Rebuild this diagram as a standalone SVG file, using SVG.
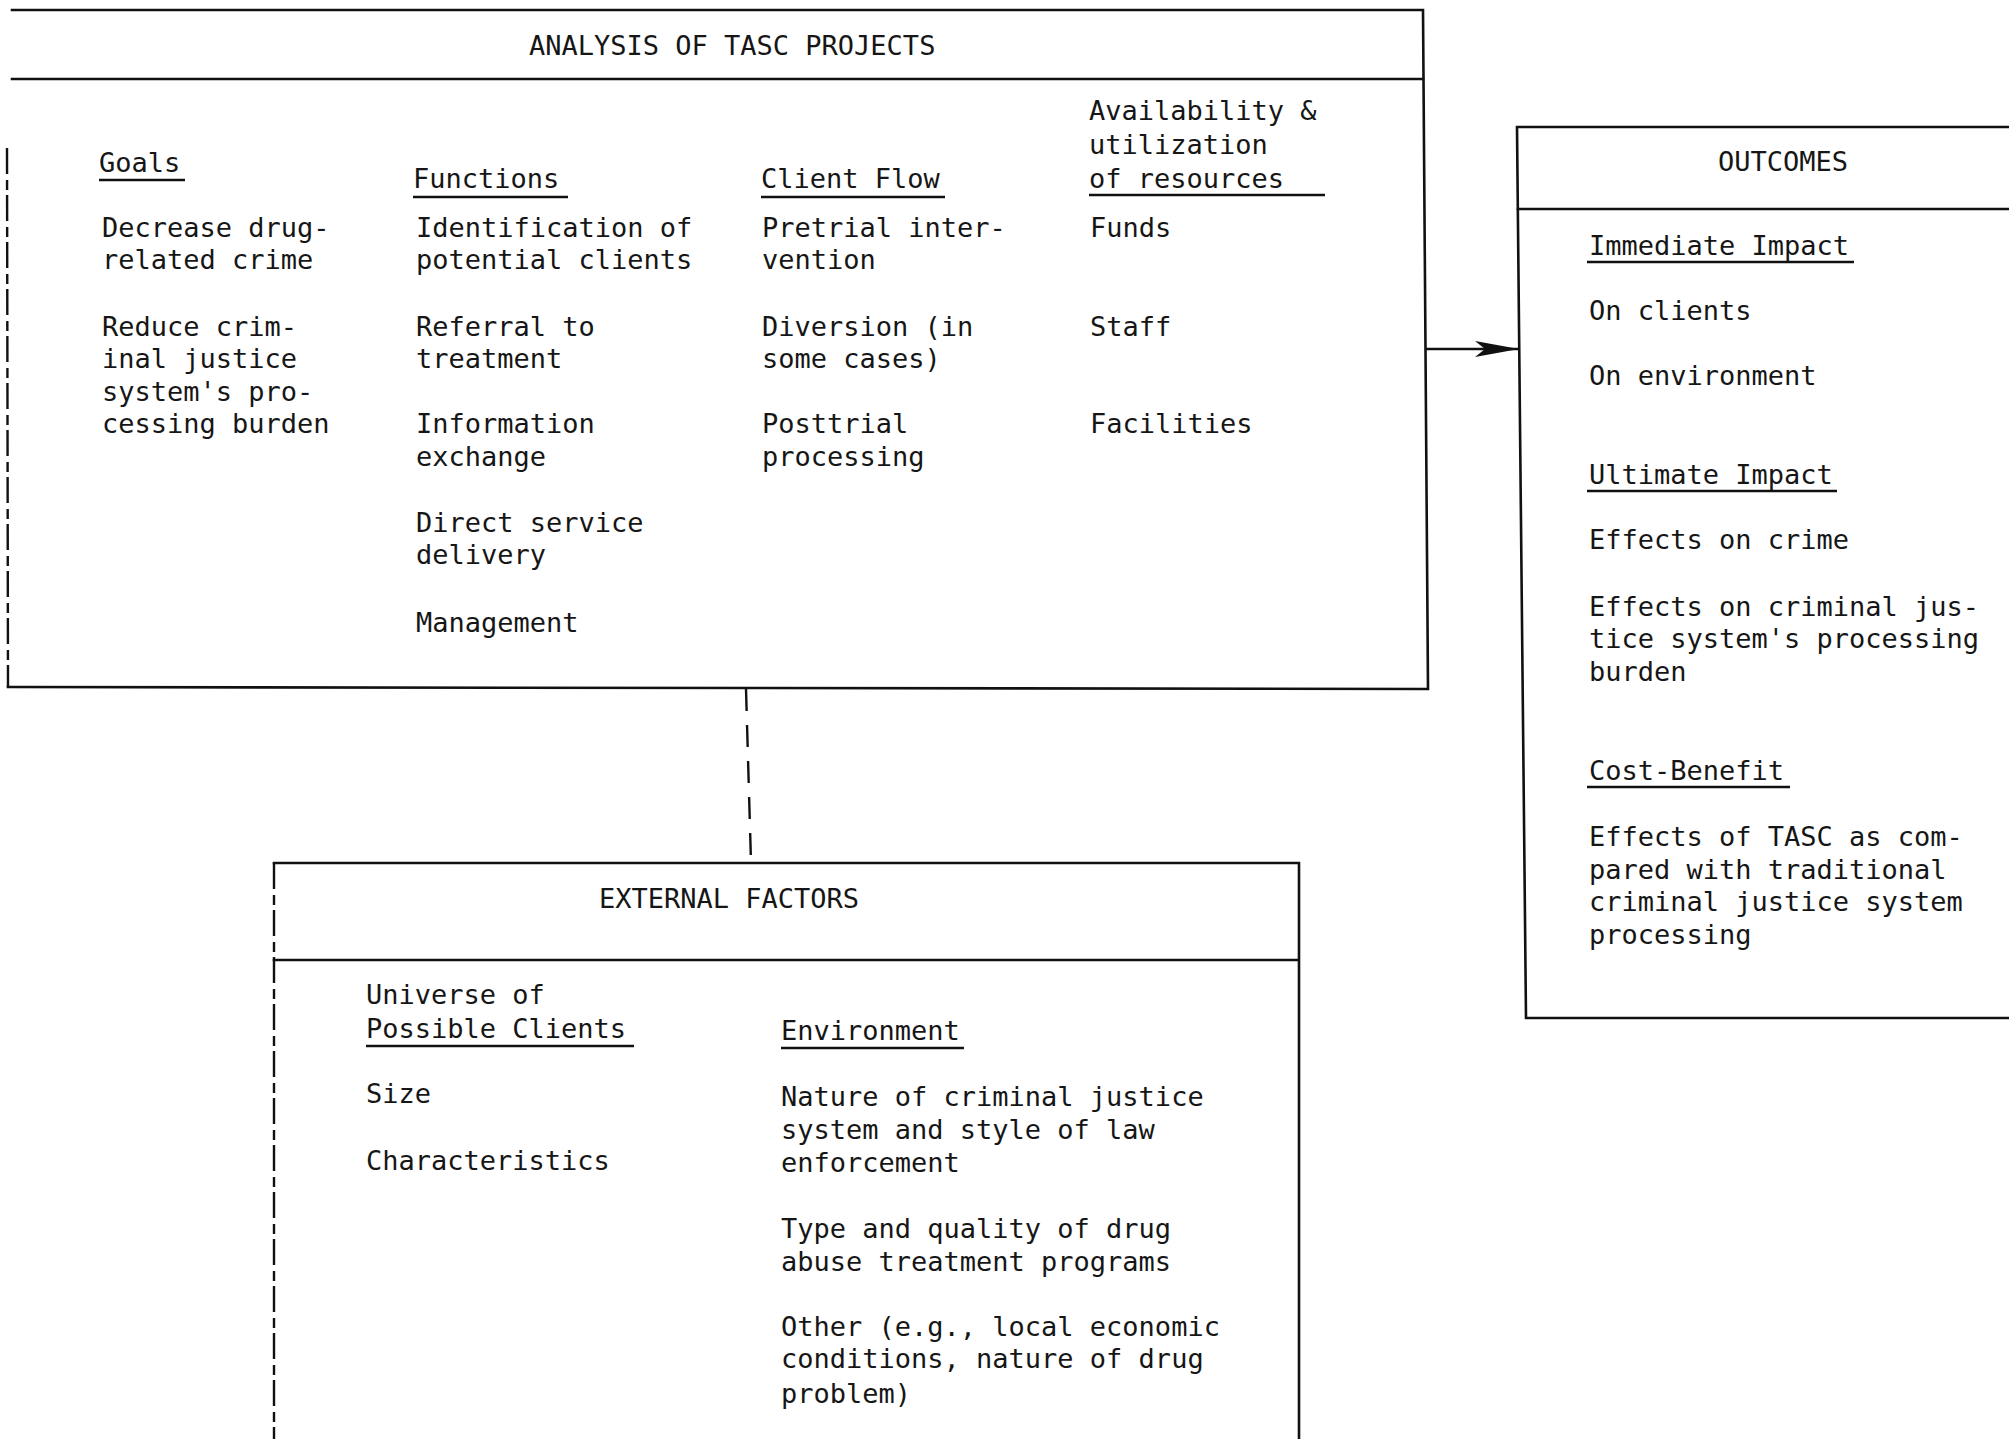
<svg xmlns="http://www.w3.org/2000/svg" width="2009" height="1439" viewBox="0 0 2009 1439">
<style>
.bg{fill:#ffffff}
.t{font-family:"DejaVu Sans Mono","Liberation Mono",monospace;font-size:27px;fill:#161616}
.box{fill:none;stroke:#111;stroke-width:2.6;stroke-linecap:square}
.dash{fill:none;stroke:#111;stroke-width:2.4;stroke-dasharray:26 6 10 5}
.u{stroke:#111;stroke-width:2.4}
.conn{fill:none;stroke:#111;stroke-width:2.6}
.cdash{fill:none;stroke:#111;stroke-width:2.4;stroke-dasharray:22 14}
</style>
<defs>
<marker id="arr" markerUnits="userSpaceOnUse" markerWidth="44" markerHeight="16" viewBox="0 0 44 16" refX="44" refY="8" orient="auto">
<path d="M0,0 L44,8 L0,16 L10,8 Z" fill="#111"/>
</marker>
</defs>
<rect class="bg" x="0" y="0" width="2009" height="1439"/>

<g id="analysis">
<path class="box" d="M12,10 L1423,10 L1428,689 L8,687"/>
<path class="dash" d="M7,148 L8,687"/>
<line class="box" x1="12" y1="79" x2="1423" y2="79"/>
<text class="t" x="529" y="55">ANALYSIS OF TASC PROJECTS</text>
<text class="t" x="99" y="172">Goals</text>
<line class="u" x1="99" y1="180" x2="185" y2="180"/>
<text class="t" x="413" y="188">Functions</text>
<line class="u" x1="413" y1="197" x2="568" y2="197"/>
<text class="t" x="761" y="188">Client Flow</text>
<line class="u" x1="761" y1="197" x2="945" y2="197"/>
<text class="t" x="1089" y="120">Availability &amp;</text>
<text class="t" x="1089" y="154">utilization</text>
<text class="t" x="1089" y="188">of resources</text>
<line class="u" x1="1089" y1="195" x2="1325" y2="195"/>
<text class="t" x="102" y="237">Decrease drug-</text>
<text class="t" x="102" y="269">related crime</text>
<text class="t" x="102" y="336">Reduce crim-</text>
<text class="t" x="102" y="368">inal justice</text>
<text class="t" x="102" y="401">system's pro-</text>
<text class="t" x="102" y="433">cessing burden</text>
<text class="t" x="416" y="237">Identification of</text>
<text class="t" x="416" y="269">potential clients</text>
<text class="t" x="416" y="336">Referral to</text>
<text class="t" x="416" y="368">treatment</text>
<text class="t" x="416" y="433">Information</text>
<text class="t" x="416" y="466">exchange</text>
<text class="t" x="416" y="532">Direct service</text>
<text class="t" x="416" y="564">delivery</text>
<text class="t" x="416" y="632">Management</text>
<text class="t" x="762" y="237">Pretrial inter-</text>
<text class="t" x="762" y="269">vention</text>
<text class="t" x="762" y="336">Diversion (in</text>
<text class="t" x="762" y="368">some cases)</text>
<text class="t" x="762" y="433">Posttrial</text>
<text class="t" x="762" y="466">processing</text>
<text class="t" x="1090" y="237">Funds</text>
<text class="t" x="1090" y="336">Staff</text>
<text class="t" x="1090" y="433">Facilities</text>
</g>

<g id="outcomes">
<path class="box" d="M2009,127 L1517,127 L1526,1018 L2009,1018"/>
<line class="box" x1="1518" y1="209" x2="2009" y2="209"/>
<text class="t" x="1718" y="171">OUTCOMES</text>
<text class="t" x="1589" y="255">Immediate Impact</text>
<line class="u" x1="1587" y1="262" x2="1854" y2="262"/>
<text class="t" x="1589" y="320">On clients</text>
<text class="t" x="1589" y="385">On environment</text>
<text class="t" x="1589" y="484">Ultimate Impact</text>
<line class="u" x1="1587" y1="491" x2="1837" y2="491"/>
<text class="t" x="1589" y="549">Effects on crime</text>
<text class="t" x="1589" y="616">Effects on criminal jus-</text>
<text class="t" x="1589" y="648">tice system's processing</text>
<text class="t" x="1589" y="681">burden</text>
<text class="t" x="1589" y="780">Cost-Benefit</text>
<line class="u" x1="1587" y1="787" x2="1790" y2="787"/>
<text class="t" x="1589" y="846">Effects of TASC as com-</text>
<text class="t" x="1589" y="879">pared with traditional</text>
<text class="t" x="1589" y="911">criminal justice system</text>
<text class="t" x="1589" y="944">processing</text>
</g>

<g id="external">
<path class="box" d="M1299,1439 L1299,863 L274,863"/>
<path class="dash" d="M274,863 L274,1439"/>
<line class="box" x1="274" y1="960" x2="1297" y2="960"/>
<text class="t" x="599" y="908">EXTERNAL FACTORS</text>
<text class="t" x="366" y="1004">Universe of</text>
<text class="t" x="366" y="1038">Possible Clients</text>
<line class="u" x1="366" y1="1046" x2="634" y2="1046"/>
<text class="t" x="366" y="1103">Size</text>
<text class="t" x="366" y="1170">Characteristics</text>
<text class="t" x="781" y="1040">Environment</text>
<line class="u" x1="781" y1="1048" x2="964" y2="1048"/>
<text class="t" x="781" y="1106">Nature of criminal justice</text>
<text class="t" x="781" y="1139">system and style of law</text>
<text class="t" x="781" y="1172">enforcement</text>
<text class="t" x="781" y="1238">Type and quality of drug</text>
<text class="t" x="781" y="1271">abuse treatment programs</text>
<text class="t" x="781" y="1336">Other (e.g., local economic</text>
<text class="t" x="781" y="1368">conditions, nature of drug</text>
<text class="t" x="781" y="1403">problem)</text>
</g>

<g id="connectors">
<line class="conn" x1="1425" y1="349" x2="1519" y2="349" marker-end="url(#arr)"/>
<path class="cdash" d="M746,689 L751,862"/>
</g>
</svg>
